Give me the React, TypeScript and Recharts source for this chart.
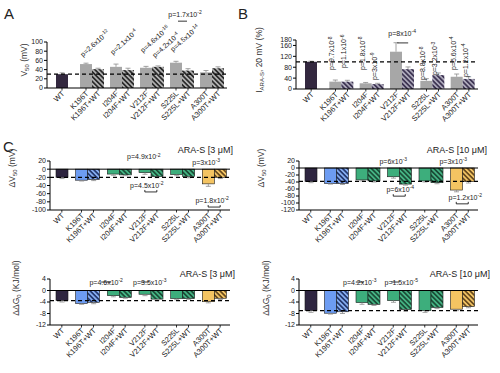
import React from 'react';
import { BarChart, Bar, XAxis, YAxis, ReferenceLine, ReferenceDot } from 'recharts';

const groups = ['WT', 'K196T', 'I204F', 'V212F', 'S225L', 'A300T'];
const pairNames = ['', 'K196T+WT', 'I204F+WT', 'V212F+WT', 'S225L+WT', 'A300T+WT'];

// A: V50 (mV)
const v50Mut = [30, 52, 46, 44, 55, 34];
const v50MutWT = [null, 41, 39, 46, 38, 43];
const v50MutErr = [3, 2, 6, 3, 3, 4];
const v50MutWTErr = [0, 2, 4, 2, 4, 3];

// B: current at 20 mV, % of WT
const iMut = [100, 27, 21, 137, 30, 45];
const iMutWT = [null, 27, 18, 73, 51, 37];
const iMutErr = [2, 6, 3, 33, 8, 10];
const iMutWTErr = [0, 5, 3, 8, 8, 8];

// C: shift of V50, ARA-S 3 and 10 uM
const dv3Mut = [-20, -27, -12, -8.5, -13, -36];
const dv3MutWT = [null, -25, -14, -18, -18, -20];
const dv3MutErr = [3, 2, 3, 4, 3, 6];
const dv3MutWTErr = [0, 3, 2, 3, 3, 3];

const dv10Mut = [-39, -44, -34, -25, -37, -63];
const dv10MutWT = [null, -44, -37, -46, -42, -39];
const dv10MutErr = [3, 2, 3, 4, 3, 5];
const dv10MutWTErr = [0, 3, 3, 3, 3, 4];

// D: ddG0 (kJ/mol), ARA-S 3 and 10 uM
const dg3Mut = [-3.5, -4.5, -1.8, -1.3, -2.8, -3.9];
const dg3MutWT = [null, -4.1, -2.4, -3, -2.8, -2.7];
const dg3MutErr = [0.5, 0.3, 0.4, 0.5, 0.4, 0.4];
const dg3MutWTErr = [0, 0.5, 0.3, 0.4, 0.3, 0.4];

const dg10Mut = [-7, -7.9, -4.2, -3.5, -7, -6.5];
const dg10MutWT = [null, -7.4, -4.8, -6.6, -5.9, -5.6];
const dg10MutErr = [0.6, 0.3, 0.6, 0.6, 0.6, 0.5];
const dg10MutWTErr = [0, 0.6, 0.4, 0.5, 0.4, 0.4];

const BAR = 12;
const FONT = 'Liberation Sans, Arial, sans-serif';

const greyFill = ['#33283f', '#a7a7a7', '#a7a7a7', '#a7a7a7', '#a7a7a7', '#a7a7a7'];
const colorFill = ['#2e2540', '#6d9cf2', '#3dae7c', '#3dae7c', '#3dae7c', '#f4c462'];
const colorHatch = ['none', 'url(#hBlue)', 'url(#hGreen)', 'url(#hGreen)', 'url(#hGreen)', 'url(#hYellow)'];

const hatch = (id, base, stripe) => (
  <pattern id={id} width={3.4} height={3.4} patternUnits="userSpaceOnUse" patternTransform="rotate(-45)">
    <rect width={3.4} height={3.4} fill={base} />
    <rect width={1.7} height={3.4} fill={stripe} />
  </pattern>
);

const barShape = (key, fills, errs, wtShift, outline) => (p) => {
  const v = p.payload[key];
  if (v == null) return null;
  const i = groups.indexOf(p.payload.g);
  const top = Math.min(p.y, p.y + p.height);
  const h = Math.abs(p.height);
  const x = p.x + (i === 0 ? wtShift : 0);
  const end = v >= 0 ? top : top + h;
  const unit = v !== 0 ? h / Math.abs(v) : 0;
  const e = errs[i] * unit * (v >= 0 ? -1 : 1);
  const cx = x + p.width / 2;
  return (
    <g>
      <rect x={x} y={top} width={p.width} height={h} fill={fills[i]}
        stroke={outline ? '#1a1a1a' : 'none'} strokeWidth={0.6} />
      {errs[i] > 0 && (
        <g stroke="#8c8c8c" strokeWidth={0.8}>
          <line x1={cx} x2={cx} y1={end} y2={end + e} />
          <line x1={cx - 2.5} x2={cx + 2.5} y1={end + e} y2={end + e} />
        </g>
      )}
    </g>
  );
};

const PairTick = ({ x, y, payload, wtShift }) => {
  const i = groups.indexOf(payload.value);
  const items = i === 0
    ? [{ bx: x - BAR / 2 + wtShift, label: 'WT' }]
    : [{ bx: x - BAR / 2, label: groups[i] }, { bx: x + BAR / 2, label: pairNames[i] }];
  return (
    <g>
      {items.map((it) => (
        <g key={it.label}>
          <line x1={it.bx} x2={it.bx} y1={y} y2={y + 2.5} stroke="#000" strokeWidth={0.8} />
          <text x={it.bx + 3} y={y + 6} textAnchor="end" fontSize={7.5} fill="#222"
            transform={`rotate(-45 ${it.bx + 3} ${y + 6})`}>{it.label}</text>
        </g>
      ))}
    </g>
  );
};

const noteLabel = (n) => (props) => {
  const { x, y } = props.viewBox;
  const tx = x + n.dx;
  const rot = n.rot ? `rotate(${n.rot} ${tx} ${y})` : undefined;
  let path = null;
  if (n.line) {
    const ly = y + n.line.dy;
    const ends = n.line.ends || 0;
    path = `M${x + n.line.x1},${ly + ends}L${x + n.line.x1},${ly}L${x + n.line.x2},${ly}L${x + n.line.x2},${ly + ends}`;
  }
  return (
    <g>
      <text x={tx} y={y} textAnchor={n.anchor || 'middle'} transform={rot} fontSize={7} fill="#222">
        {n.base}<tspan dy={-2.8} fontSize={5}>{n.exp}</tspan>
      </text>
      {path && <path d={path} stroke="#000" strokeWidth={0.8} fill="none" />}
    </g>
  );
};

const notesA = [
  { g: 'K196T', v: 67, dx: -9, base: 'p=2.6x10', exp: '-12', rot: -42, anchor: 'start' },
  { g: 'I204F', v: 72, dx: -9, base: 'p=2.1x10', exp: '-4', rot: -42, anchor: 'start' },
  { g: 'V212F', v: 76, dx: -9, base: 'p=4.6x10', exp: '-16', rot: -42, anchor: 'start' },
  { g: 'V212F', v: 65, dx: 3, base: 'p=4.2x10', exp: '-4', rot: -42, anchor: 'start' },
  { g: 'S225L', v: 78, dx: -9, base: 'p=4.5x10', exp: '-14', rot: -42, anchor: 'start' },
  { g: 'S225L', v: 154, dx: 3, base: 'p=1.7x10', exp: '-2', line: { x1: -4, x2: 5, dy: 4 } },
];

const notesB = [
  { g: 'K196T', v: 70, dx: -7, base: 'p=9.7x10', exp: '-8', rot: -90, anchor: 'start' },
  { g: 'K196T', v: 77, dx: 5, base: 'p=1.1x10', exp: '-6', rot: -90, anchor: 'start' },
  { g: 'I204F', v: 70, dx: -7, base: 'p=1.8x10', exp: '-8', rot: -90, anchor: 'start' },
  { g: 'I204F', v: 33, dx: 5, base: 'p=3x10', exp: '-9', rot: -90, anchor: 'start' },
  { g: 'V212F', v: 195, dx: 0, base: 'p=8x10', exp: '-4', line: { x1: -5, x2: 6, dy: 7 } },
  { g: 'S225L', v: 33, dx: -7, base: 'p=8.8x10', exp: '-8', rot: -90, anchor: 'start' },
  { g: 'S225L', v: 51, dx: 5, base: 'p=3.2x10', exp: '-3', rot: -90, anchor: 'start' },
  { g: 'A300T', v: 70, dx: -7, base: 'p=5.6x10', exp: '-4', rot: -90, anchor: 'start' },
  { g: 'A300T', v: 44, dx: 5, base: 'p=1.2x10', exp: '-4', rot: -90, anchor: 'start' },
];

const notesC3 = [
  { g: 'V212F', v: 24, dx: -7, base: 'p=4.9x10', exp: '-2' },
  { g: 'A300T', v: 11, dx: -8, base: 'p=3x10', exp: '-3' },
  { g: 'V212F', v: -46, dx: -4, base: 'p=4.5x10', exp: '-2', line: { x1: -6, x2: 6, dy: 4, ends: -2 } },
  { g: 'A300T', v: -83, dx: -2, base: 'p=1.8x10', exp: '-2', line: { x1: -6, x2: 6, dy: 4, ends: -2 } },
];

const notesC10 = [
  { g: 'V212F', v: 11, dx: -6, base: 'p=6x10', exp: '-3' },
  { g: 'A300T', v: 11, dx: -9, base: 'p=3x10', exp: '-3' },
  { g: 'V212F', v: -69, dx: 1, base: 'p=6x10', exp: '-4', line: { x1: -6, x2: 6, dy: 4, ends: -2 } },
  { g: 'A300T', v: -91, dx: 3, base: 'p=1.2x10', exp: '-2', line: { x1: -6, x2: 6, dy: 4, ends: -2 } },
];

const notesD3 = [
  { g: 'I204F', v: 1.9, dx: -13, base: 'p=4.6x10', exp: '-2', line: { x1: -18, x2: -8, dy: -3 } },
  { g: 'V212F', v: 1.9, dx: -1, base: 'p=3.5x10', exp: '-3', line: { x1: -10, x2: -2, dy: -3 } },
];

const notesD10 = [
  { g: 'I204F', v: 1.9, dx: -8, base: 'p=4.2x10', exp: '-3', line: { x1: -12, x2: -4, dy: -3 } },
  { g: 'V212F', v: 1.9, dx: 2, base: 'p=1.5x10', exp: '-5', line: { x1: -8, x2: 0, dy: -3 } },
];

const panels = [
  { left: 0, top: 0, w: 250, h: 130, plotLeft: 47, plotRight: 227, plotTop: 42, plotBottom: 88, padL: 0,
    mut: v50Mut, mutWT: v50MutWT, mutErr: v50MutErr, mutWTErr: v50MutWTErr, domain: [0, 100], ticks: [0, 20, 40, 60, 80, 100],
    dash: 30, zero: false, wtShift: BAR / 2, fills: greyFill, hatches: groups.map(() => 'url(#hGrey)'), outline: false, notes: notesA },
  { left: 250, top: 0, w: 250, h: 130, plotLeft: 46, plotRight: 228, plotTop: 40, plotBottom: 89, padL: 0,
    mut: iMut, mutWT: iMutWT, mutErr: iMutErr, mutWTErr: iMutWTErr, domain: [0, 180], ticks: [0, 40, 80, 120, 160, 180],
    dash: 100, zero: false, wtShift: BAR / 2, fills: greyFill, hatches: groups.map(() => 'url(#hPurple)'), outline: false, notes: notesB },
  { left: 0, top: 130, w: 250, h: 120, plotLeft: 50, plotRight: 230, plotTop: 31, plotBottom: 80, padL: -10,
    mut: dv3Mut, mutWT: dv3MutWT, mutErr: dv3MutErr, mutWTErr: dv3MutWTErr, domain: [-100, 20], ticks: [-100, -80, -60, -40, -20, 0, 20],
    dash: -20, zero: true, wtShift: BAR, fills: colorFill, hatches: colorHatch, outline: true, notes: notesC3 },
  { left: 250, top: 130, w: 250, h: 120, plotLeft: 49, plotRight: 228, plotTop: 31, plotBottom: 80, padL: -10,
    mut: dv10Mut, mutWT: dv10MutWT, mutErr: dv10MutErr, mutWTErr: dv10MutWTErr, domain: [-120, 20], ticks: [-120, -100, -80, -60, -40, -20, 0, 20],
    dash: -38, zero: true, wtShift: BAR, fills: colorFill, hatches: colorHatch, outline: true, notes: notesC10 },
  { left: 0, top: 250, w: 250, h: 123, plotLeft: 50, plotRight: 230, plotTop: 29, plotBottom: 75, padL: -10,
    mut: dg3Mut, mutWT: dg3MutWT, mutErr: dg3MutErr, mutWTErr: dg3MutWTErr, domain: [-12, 4], ticks: [-12, -8, -4, 0, 4],
    dash: -3.5, zero: true, wtShift: BAR, fills: colorFill, hatches: colorHatch, outline: true, notes: notesD3 },
  { left: 250, top: 250, w: 250, h: 123, plotLeft: 49, plotRight: 228, plotTop: 29, plotBottom: 75, padL: -10,
    mut: dg10Mut, mutWT: dg10MutWT, mutErr: dg10MutErr, mutWTErr: dg10MutWTErr, domain: [-12, 4], ticks: [-12, -8, -4, 0, 4],
    dash: -7, zero: true, wtShift: BAR, fills: colorFill, hatches: colorHatch, outline: true, notes: notesD10 },
];

function Panel({ cfg }) {
  const data = groups.map((g, i) => ({ g, mut: cfg.mut[i], mutWT: cfg.mutWT[i] }));
  return (
    <div style={{ position: 'absolute', left: cfg.left, top: cfg.top }}>
      <BarChart width={cfg.w} height={cfg.h} data={data} barSize={BAR} barGap={0}
        margin={{ top: cfg.plotTop, right: cfg.w - cfg.plotRight, left: 0, bottom: 0 }}>
        <XAxis dataKey="g" height={cfg.h - cfg.plotBottom} padding={{ left: cfg.padL, right: 0 }}
          axisLine={{ stroke: '#000', strokeWidth: 1 }} tickLine={false} tickSize={0} tickMargin={0} interval={0}
          tick={(t) => <PairTick {...t} wtShift={cfg.wtShift} />} />
        <YAxis width={cfg.plotLeft} domain={cfg.domain} ticks={cfg.ticks} interval={0} allowDataOverflow
          tick={{ fontSize: 7, fill: '#222' }} tickSize={3} tickMargin={1}
          axisLine={{ stroke: '#000', strokeWidth: 1 }} tickLine={{ stroke: '#000' }} />
        <Bar dataKey="mut" isAnimationActive={false}
          shape={barShape('mut', cfg.fills, cfg.mutErr, cfg.wtShift, cfg.outline)} />
        <Bar dataKey="mutWT" isAnimationActive={false}
          shape={barShape('mutWT', cfg.hatches, cfg.mutWTErr, 0, cfg.outline)} />
        {cfg.zero && <ReferenceLine y={0} stroke="#000" strokeWidth={1} />}
        <ReferenceLine y={cfg.dash} stroke="#000" strokeWidth={1.2} strokeDasharray="4 3" />
        {cfg.notes.map((n, k) => (
          <ReferenceDot key={k} x={n.g} y={n.v} r={0} fill="none" stroke="none" ifOverflow="visible"
            label={noteLabel(n)} />
        ))}
      </BarChart>
    </div>
  );
}

const YLabel = ({ x, y, main, sub, rest }) => (
  <text x={x} y={y} textAnchor="middle" fontSize={8.5} fill="#333" transform={`rotate(-90 ${x} ${y})`}>
    {main}<tspan dy={2} fontSize={6}>{sub}</tspan><tspan dy={-2}>{rest}</tspan>
  </text>
);

export default function App() {
  return (
    <div style={{ position: 'absolute', left: 0, top: 0, width: 500, height: 373, background: '#fff', fontFamily: FONT }}>
      <svg width={500} height={373} style={{ position: 'absolute', left: 0, top: 0 }}>
        <defs>
          {hatch('hGrey', '#b0b0b0', '#2b2b2b')}
          {hatch('hPurple', '#aaa6b8', '#3d3452')}
          {hatch('hBlue', '#86aef2', '#24386e')}
          {hatch('hGreen', '#44b383', '#1b4d37')}
          {hatch('hYellow', '#f3c565', '#6a4b1e')}
        </defs>
        <text x={4} y={19} fontSize={15} fill="#222">A</text>
        <text x={238} y={19} fontSize={15} fill="#222">B</text>
        <text x={3} y={152} fontSize={15} fill="#222">C</text>
        <YLabel x={27} y={60} main="V" sub="50" rest=" (mV)" />
        <YLabel x={262} y={60} main="I" sub="ARA-S" rest=", 20 mV (%)" />
        <YLabel x={15} y={168} main="ΔV" sub="50" rest=" (mV)" />
        <YLabel x={264} y={168} main="ΔV" sub="50" rest=" (mV)" />
        <YLabel x={19} y={288} main="ΔΔG" sub="0" rest=" (KJ/mol)" />
        <YLabel x={269} y={288} main="ΔΔG" sub="0" rest=" (KJ/mol)" />
        <text x={233} y={153} textAnchor="end" fontSize={9} fill="#222">ARA-S [3 μM]</text>
        <text x={487} y={153} textAnchor="end" fontSize={9} fill="#222">ARA-S [10 μM]</text>
        <text x={235} y={277} textAnchor="end" fontSize={9} fill="#222">ARA-S [3 μM]</text>
        <text x={490} y={277} textAnchor="end" fontSize={9} fill="#222">ARA-S [10 μM]</text>
      </svg>
      {panels.map((cfg, k) => <Panel key={k} cfg={cfg} />)}
    </div>
  );
}
